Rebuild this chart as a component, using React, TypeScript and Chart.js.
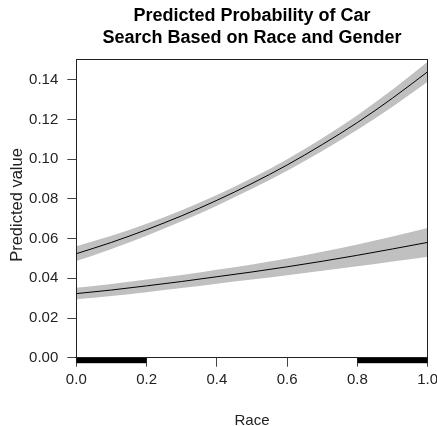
import React, { useEffect, useRef } from "react";
import { Chart, registerables } from "chart.js";

Chart.register(...registerables);

const raceX = [0, 0.1, 0.2, 0.3, 0.4, 0.5, 0.6, 0.7, 0.8, 0.9, 1.0];

const groupAFit = [0.0524, 0.0581, 0.0645, 0.0715, 0.0793, 0.0878, 0.0971, 0.1074, 0.1185, 0.1308, 0.1441];
const groupAHi = [0.0561, 0.0614, 0.0675, 0.0743, 0.082, 0.0905, 0.1, 0.1106, 0.1222, 0.1351, 0.1491];
const groupALo = [0.0487, 0.0548, 0.0615, 0.0687, 0.0766, 0.0851, 0.0942, 0.1042, 0.1148, 0.1265, 0.1391];

const groupBFit = [0.0323, 0.0341, 0.0362, 0.0384, 0.0408, 0.0432, 0.0458, 0.0486, 0.0516, 0.0548, 0.0581];
const groupBHi = [0.0352, 0.0371, 0.0394, 0.0417, 0.0443, 0.047, 0.05, 0.0534, 0.0571, 0.0611, 0.0653];
const groupBLo = [0.0294, 0.0311, 0.033, 0.0351, 0.0373, 0.0394, 0.0416, 0.0438, 0.0461, 0.0485, 0.0509];

const rugStarts = [0, 0.8];
const rugEnds = [0.2, 1.0];

const titleLines = ["Predicted Probability of Car", "Search Based on Race and Gender"];
const xTitle = "Race";
const yTitle = "Predicted value";

const FONT = "'Liberation Sans', Arial, Helvetica, sans-serif";
const BAND = "rgb(192,192,192)";

const pts = (ys: number[]) => raceX.map((x, i) => ({ x, y: ys[i] }));

const decorPlugin = {
  id: "decor",
  afterDraw(chart: any) {
    const { ctx, chartArea: a, scales } = chart;
    const xs = scales.x;
    ctx.save();
    // rug
    ctx.fillStyle = "#000";
    for (let i = 0; i < rugStarts.length; i++) {
      const x0 = xs.getPixelForValue(rugStarts[i]);
      const x1 = xs.getPixelForValue(rugEnds[i]);
      ctx.fillRect(x0, a.bottom, x1 - x0, 5.5);
    }
    // box
    ctx.strokeStyle = "#222";
    ctx.lineWidth = 1;
    ctx.strokeRect(Math.round(a.left) + 0.5, Math.round(a.top) - 0.5, Math.round(a.right - a.left), Math.round(a.bottom - a.top));
    // titles
    const cx = (a.left + a.right) / 2;
    ctx.fillStyle = "#000";
    ctx.textAlign = "center";
    ctx.textBaseline = "alphabetic";
    ctx.font = `bold 18px ${FONT}`;
    ctx.fillText(titleLines[0], cx, 20.5);
    ctx.fillText(titleLines[1], cx, 42.5);
    ctx.fillStyle = "#222";
    ctx.font = `15px ${FONT}`;
    ctx.fillText(xTitle, cx, 425);
    ctx.font = `16.5px ${FONT}`;
    ctx.translate(21.5, 205);
    ctx.rotate(-Math.PI / 2);
    ctx.fillText(yTitle, 0, 0);
    ctx.restore();
  },
};

export default function App() {
  const ref = useRef<HTMLCanvasElement | null>(null);
  useEffect(() => {
    document.body.style.margin = "0";
    if (!ref.current) return;
    const lineCommon = { pointRadius: 0, cubicInterpolationMode: "monotone" as const };
    const chart = new Chart(ref.current, {
      type: "line",
      data: {
        datasets: [
          { data: pts(groupAHi), borderWidth: 0, borderColor: BAND, fill: false, order: 2, ...lineCommon },
          { data: pts(groupALo), borderWidth: 0, borderColor: BAND, backgroundColor: BAND, fill: "-1", order: 2, ...lineCommon },
          { data: pts(groupBHi), borderWidth: 0, borderColor: BAND, fill: false, order: 2, ...lineCommon },
          { data: pts(groupBLo), borderWidth: 0, borderColor: BAND, backgroundColor: BAND, fill: "-1", order: 2, ...lineCommon },
          { data: pts(groupAFit), borderWidth: 1, borderColor: "#000", fill: false, order: 0, ...lineCommon },
          { data: pts(groupBFit), borderWidth: 1, borderColor: "#000", fill: false, order: 0, ...lineCommon },
        ],
      },
      options: {
        animation: false,
        responsive: false,
        devicePixelRatio: 1,
        layout: { padding: { top: 60, right: 9.3, left: 0, bottom: 0 } },
        plugins: { legend: { display: false }, tooltip: { enabled: false }, title: { display: false } },
        scales: {
          x: {
            type: "linear",
            min: 0,
            max: 1,
            ticks: {
              stepSize: 0.2,
              callback: (v: any) => Number(v).toFixed(1),
              font: { size: 15, family: FONT },
              color: "#222",
              padding: 4,
              maxRotation: 0,
            },
            grid: { drawOnChartArea: false, drawTicks: true, tickLength: 9, color: "#444" },
            border: { display: false },
            afterFit: (s: any) => {
              s.height = 68.3;
              s.paddingLeft = 0;
              s.paddingRight = 0;
            },
          },
          y: {
            type: "linear",
            min: 0,
            max: 0.15,
            ticks: {
              stepSize: 0.02,
              includeBounds: false,
              callback: (v: any) => Number(v).toFixed(2),
              font: { size: 15, family: FONT },
              color: "#222",
              padding: 9,
            },
            grid: { drawOnChartArea: false, drawTicks: true, tickLength: 9, color: "#444" },
            border: { display: false },
            afterFit: (s: any) => {
              s.width = 76.3;
              s.paddingTop = 0;
              s.paddingBottom = 0;
            },
          },
        },
      },
      plugins: [decorPlugin],
    });
    return () => chart.destroy();
  }, []);
  return (
    <div style={{ width: 437, height: 426 }}>
      <canvas ref={ref} width={437} height={426} style={{ display: "block" }} />
    </div>
  );
}
